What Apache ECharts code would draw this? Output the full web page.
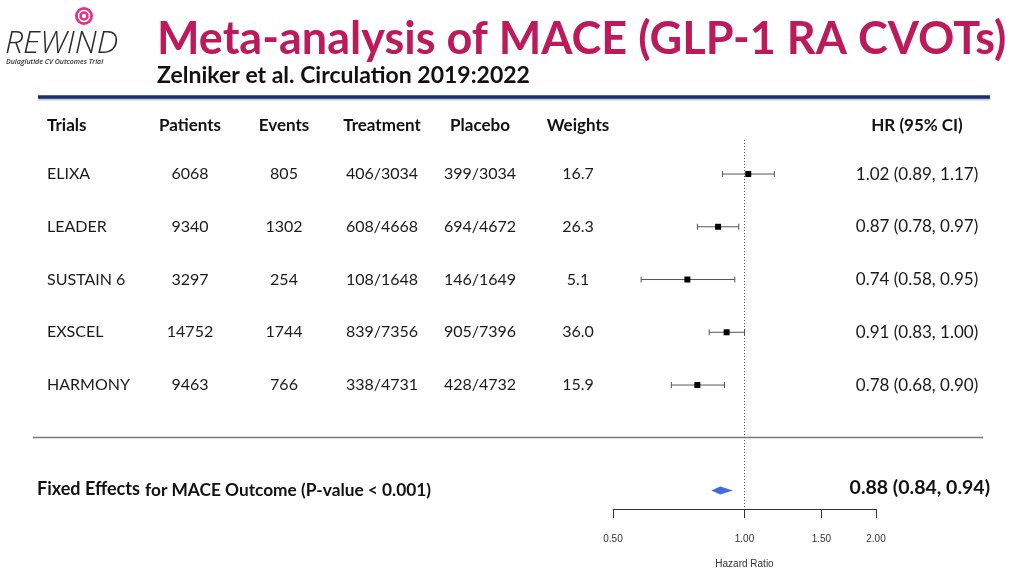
<!DOCTYPE html>
<html>
<head>
<meta charset="utf-8">
<script src="https://cdn.jsdelivr.net/npm/echarts@6/dist/echarts.min.js"></script>
<style>
html,body{margin:0;padding:0;background:#fff;}
#chart{width:1024px;height:576px;}
</style>
</head>
<body>
<div id="chart"></div>
<script>
// ---- data ----
const trials = ['ELIXA', 'LEADER', 'SUSTAIN 6', 'EXSCEL', 'HARMONY'];
const patients = ['6068', '9340', '3297', '14752', '9463'];
const events = ['805', '1302', '254', '1744', '766'];
const treatment = ['406/3034', '608/4668', '108/1648', '839/7356', '338/4731'];
const placebo = ['399/3034', '694/4672', '146/1649', '905/7396', '428/4732'];
const weights = ['16.7', '26.3', '5.1', '36.0', '15.9'];
const hr = [1.02, 0.87, 0.74, 0.91, 0.78];
const lower = [0.89, 0.78, 0.58, 0.83, 0.68];
const upper = [1.17, 0.97, 0.95, 1.00, 0.90];
const hrLabels = ['1.02 (0.89, 1.17)', '0.87 (0.78, 0.97)', '0.74 (0.58, 0.95)', '0.91 (0.83, 1.00)', '0.78 (0.68, 0.90)'];
const pooledHR = [0.88];
const pooledLower = [0.84];
const pooledUpper = [0.94];
const pooledLabel = '0.88 (0.84, 0.94)';
const headers = ['Trials', 'Patients', 'Events', 'Treatment', 'Placebo', 'Weights', 'HR (95% CI)'];
const xTicks = [0.5, 1.0, 1.5, 2.0];

const FONT = 'Lato, "Noto Sans", sans-serif';
const colX = [47, 190, 284, 382, 480, 578, 917];
const pooledRow = 6;
const yMin = -0.645, yMax = 6.35;

const chart = echarts.init(document.getElementById('chart'), null, {renderer: 'canvas'});

const rowData = trials.map((t, i) => [i, hr[i], lower[i], upper[i]]);

const option = {
  backgroundColor: '#fff',
  animation: false,
  grid: {left: 613, right: 1024 - 876, top: 140, bottom: 576 - 509},
  xAxis: {
    type: 'log', logBase: 2, min: 0.5, max: 2,
    name: 'Hazard Ratio', nameLocation: 'middle', nameGap: 50,
    nameTextStyle: {fontFamily: 'Liberation Sans, Arial, sans-serif', fontSize: 10, color: '#333'},
    axisLine: {show: true, onZero: false, lineStyle: {color: '#333', width: 1}},
    axisTick: {show: true, length: 9, customValues: xTicks, lineStyle: {color: '#333'}},
    axisLabel: {customValues: xTicks, margin: 25, fontFamily: 'Liberation Sans, Arial, sans-serif', fontSize: 10, color: '#333',
      formatter: v => Number(v).toFixed(2)},
    splitLine: {show: false}
  },
  yAxis: {
    type: 'value', inverse: true, min: yMin, max: yMax, show: false
  },
  series: [
    {
      type: 'custom',
      data: rowData,
      renderItem: function (params, api) {
        const i = api.value(0);
        const c = api.coord([api.value(1), i]);
        const l = api.coord([api.value(2), i]);
        const u = api.coord([api.value(3), i]);
        const y = c[1];
        const cap = 3;
        const sq = 6;
        const ls = {stroke: '#555', lineWidth: 1};
        const cells = [trials[i], patients[i], events[i], treatment[i], placebo[i], weights[i], hrLabels[i]];
        const texts = cells.map((s, k) => ({
          type: 'text', silent: true,
          style: {x: colX[k], y: y, text: s, fill: '#1a1a1a', font: (k === 6 ? '17px ' : '16px ') + FONT,
            align: k === 0 ? 'left' : 'center', verticalAlign: 'middle'}
        }));
        return {
          type: 'group',
          children: [
            {type: 'line', shape: {x1: l[0], y1: y, x2: u[0], y2: y}, style: ls},
            {type: 'line', shape: {x1: l[0], y1: y - cap, x2: l[0], y2: y + cap}, style: ls},
            {type: 'line', shape: {x1: u[0], y1: y - cap, x2: u[0], y2: y + cap}, style: ls},
            {type: 'rect', shape: {x: c[0] - sq / 2, y: y - sq / 2, width: sq, height: sq}, style: {fill: '#000'}}
          ].concat(texts)
        };
      },
      markLine: {
        silent: true, symbol: 'none', label: {show: false},
        lineStyle: {type: [1, 2], color: '#555', width: 1},
        data: [[{coord: [1, yMin]}, {coord: [1, yMax]}]]
      },
      z: 3
    },
    {
      type: 'custom',
      data: pooledHR.map((h, i) => [h, pooledLower[i], pooledUpper[i]]),
      renderItem: function (params, api) {
        const c = api.coord([api.value(0), pooledRow]);
        const l = api.coord([api.value(1), pooledRow]);
        const u = api.coord([api.value(2), pooledRow]);
        const h = 4;
        return {
          type: 'polygon',
          shape: {points: [[l[0], c[1]], [c[0], c[1] - h], [u[0], c[1]], [c[0], c[1] + h]]},
          style: {fill: '#4169E1'}
        };
      },
      z: 4
    }
  ],
  graphic: [
    // logo
    {type: 'circle', shape: {cx: 84, cy: 16, r: 9}, style: {fill: '#E8307E'}},
    {type: 'circle', shape: {cx: 84, cy: 16, r: 5.5}, style: {fill: 'none', stroke: '#fff', lineWidth: 1.5}},
    {type: 'circle', shape: {cx: 84, cy: 16, r: 2.2}, style: {fill: '#fff'}},
    {type: 'text', style: {x: 5, y: 44, text: 'REWIND', font: 'italic 300 32px "Open Sans", Lato, sans-serif', fill: '#2a2a2a', verticalAlign: 'middle'}},
    {type: 'text', style: {x: 6, y: 62, text: 'Dulaglutide CV Outcomes Trial', font: 'italic 600 7px "Open Sans", sans-serif', fill: '#333', verticalAlign: 'middle'}},
    // title
    {type: 'text', style: {x: 157, y: 39, text: 'Meta-analysis of MACE (GLP-1 RA CVOTs)', font: 'bold 45px ' + FONT, fill: '#BD1A5C', verticalAlign: 'middle'}},
    {type: 'text', style: {x: 157, y: 76, text: 'Zelniker et al. Circulation 2019:2022', font: 'bold 23px ' + FONT, fill: '#111', verticalAlign: 'middle'}},
    // navy rule
    {type: 'line', shape: {x1: 38, y1: 99, x2: 990, y2: 99}, style: {stroke: '#c9ccd6', lineWidth: 3}},
    {type: 'line', shape: {x1: 38, y1: 97, x2: 990, y2: 97}, style: {stroke: '#18306C', lineWidth: 3.5}},
    // separator
    {type: 'line', shape: {x1: 33, y1: 437.5, x2: 983, y2: 437.5}, style: {stroke: '#777', lineWidth: 1.3}},
    // headers
    ...headers.map((h, k) => ({type: 'text', style: {x: colX[k], y: 126, text: h, font: 'bold 17px ' + FONT, fill: '#111',
      align: k === 0 ? 'left' : 'center', verticalAlign: 'middle'}})),
    // pooled text
    {type: 'text', style: {x: 37, y: 489.5, text: 'Fixed Effects', font: 'bold 18px ' + FONT, fill: '#111', verticalAlign: 'middle'}},
    {type: 'text', style: {x: 145, y: 490, text: 'for MACE Outcome (P-value < 0.001)', font: 'bold 17.3px ' + FONT, fill: '#111', verticalAlign: 'middle'}},
    {type: 'text', style: {x: 990, y: 488, text: pooledLabel, font: 'bold 19.5px ' + FONT, fill: '#111', align: 'right', verticalAlign: 'middle'}}
  ]
};
chart.setOption(option);
</script>
</body>
</html>
